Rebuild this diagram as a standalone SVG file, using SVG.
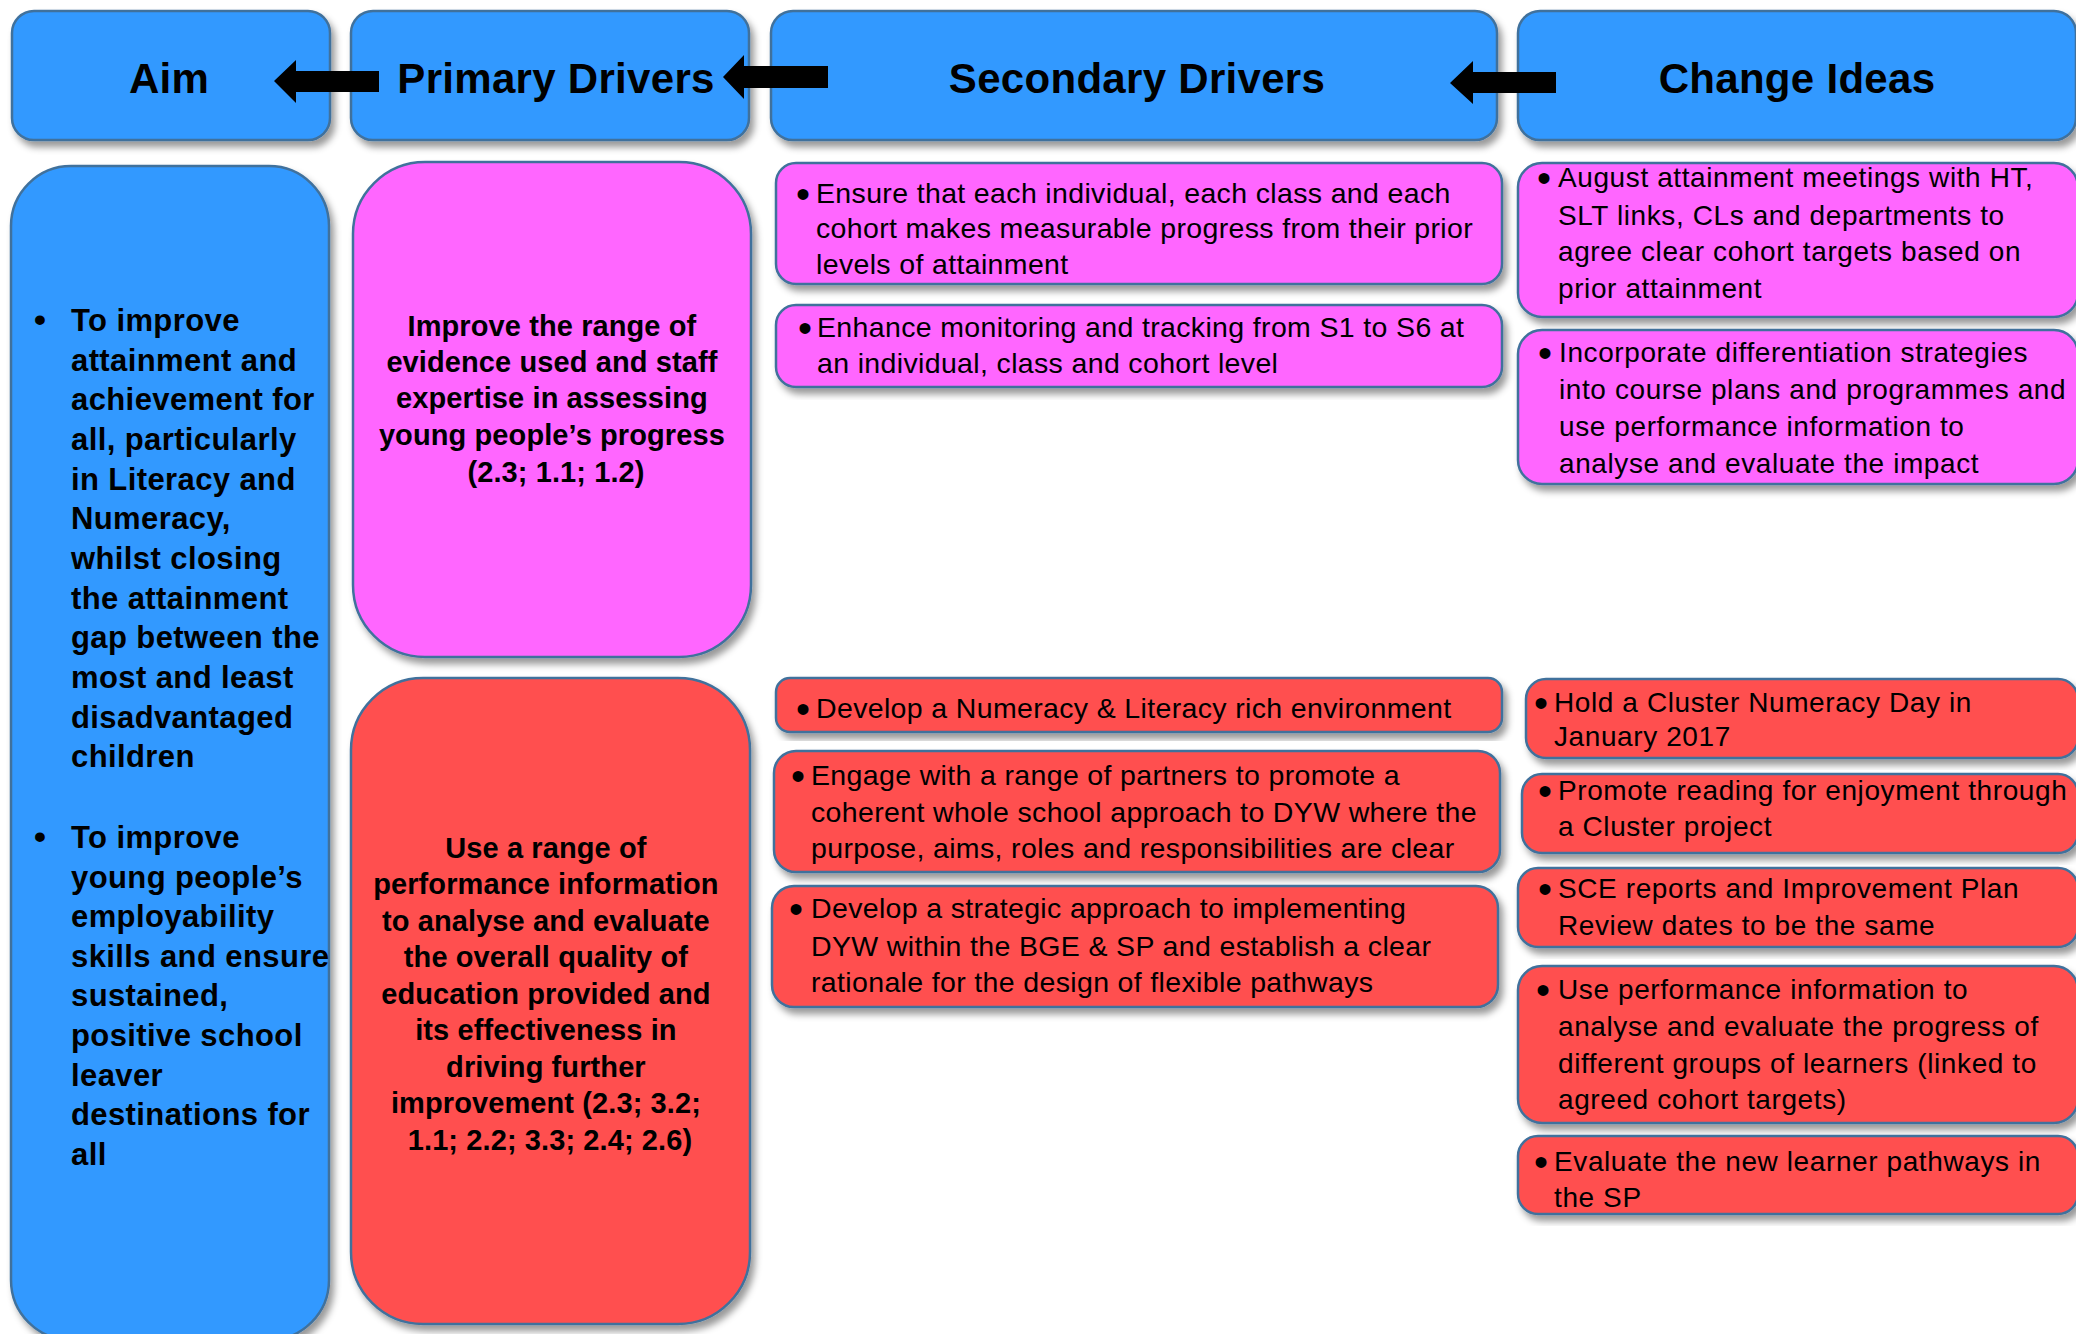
<svg xmlns="http://www.w3.org/2000/svg" width="2076" height="1334" viewBox="0 0 2076 1334">
<defs>
<filter id="sh" x="-5%" y="-5%" width="115%" height="120%">
<feDropShadow dx="4" dy="6" stdDeviation="3.5" flood-color="#000" flood-opacity="0.4"/>
</filter>
</defs>
<style>
.box{stroke:#41719C;stroke-width:2.5;filter:url(#sh)}
.blue{fill:#3399FF}
.mag{fill:#FF66FF}
.red{fill:#FF5050}
.hd{font-family:"Liberation Sans",Arial,sans-serif;font-weight:bold;font-size:42px;fill:#000;text-anchor:middle;letter-spacing:0.3px}
.aim{font-family:"Liberation Sans",Arial,sans-serif;font-weight:bold;font-size:31px;fill:#000;letter-spacing:0.4px}
.pd{font-family:"Liberation Sans",Arial,sans-serif;font-weight:bold;font-size:29px;fill:#000;text-anchor:middle;letter-spacing:0.1px}
.sd{font-family:"Liberation Sans",Arial,sans-serif;font-size:28.5px;fill:#000;letter-spacing:0.35px}
.ci{font-family:"Liberation Sans",Arial,sans-serif;font-size:28px;fill:#000;letter-spacing:0.6px}
.bl{font-family:"Liberation Sans",Arial,sans-serif;font-size:40px;fill:#000;text-anchor:middle}
.ab{font-family:"Liberation Sans",Arial,sans-serif;font-size:34px;font-weight:bold;fill:#000;text-anchor:middle}
</style>
<rect width="2076" height="1334" fill="#fff"/>

<g id="hdr-aim"><rect class="box blue" x="12" y="11" width="318" height="129" rx="22"/><text class="hd" x="169" y="93">Aim</text></g>
<g id="hdr-primary"><rect class="box blue" x="351" y="11" width="398" height="129" rx="22"/><text class="hd" x="556" y="93">Primary Drivers</text></g>
<g id="hdr-secondary"><rect class="box blue" x="771" y="11" width="726" height="129" rx="22"/><text class="hd" x="1137" y="93">Secondary Drivers</text></g>
<g id="hdr-change"><rect class="box blue" x="1518" y="11" width="558" height="129" rx="22"/><text class="hd" x="1797" y="93">Change Ideas</text></g>

<g id="aim">
<rect class="box blue" x="11" y="166" width="318" height="1174" rx="60"/>
<text class="ab" x="40" y="331">•</text>
<text class="aim" x="71">
<tspan x="71" y="331">To improve</tspan>
<tspan x="71" y="371">attainment and</tspan>
<tspan x="71" y="410">achievement for</tspan>
<tspan x="71" y="450">all, particularly</tspan>
<tspan x="71" y="490">in Literacy and</tspan>
<tspan x="71" y="529">Numeracy,</tspan>
<tspan x="71" y="569">whilst closing</tspan>
<tspan x="71" y="609">the attainment</tspan>
<tspan x="71" y="648">gap between the</tspan>
<tspan x="71" y="688">most and least</tspan>
<tspan x="71" y="728">disadvantaged</tspan>
<tspan x="71" y="767">children</tspan>
</text>
<text class="ab" x="40" y="848">•</text>
<text class="aim" x="71">
<tspan x="71" y="848">To improve</tspan>
<tspan x="71" y="888">young people’s</tspan>
<tspan x="71" y="927">employability</tspan>
<tspan x="71" y="967">skills and ensure</tspan>
<tspan x="71" y="1006">sustained,</tspan>
<tspan x="71" y="1046">positive school</tspan>
<tspan x="71" y="1086">leaver</tspan>
<tspan x="71" y="1125">destinations for</tspan>
<tspan x="71" y="1165">all</tspan>
</text>
</g>

<g id="primary-1">
<rect class="box mag" x="353" y="162" width="398" height="495" rx="72"/>
<text class="pd">
<tspan x="556" y="336">Improve the range of</tspan>
<tspan x="556" y="372">evidence used and staff</tspan>
<tspan x="556" y="408">expertise in assessing</tspan>
<tspan x="556" y="445">young people’s progress</tspan>
<tspan x="556" y="482">(2.3; 1.1; 1.2)</tspan>
</text>
</g>

<g id="primary-2">
<rect class="box red" x="351" y="678" width="399" height="646" rx="72"/>
<text class="pd">
<tspan x="550" y="858">Use a range of</tspan>
<tspan x="550" y="894">performance information</tspan>
<tspan x="550" y="931">to analyse and evaluate</tspan>
<tspan x="550" y="967">the overall quality of</tspan>
<tspan x="550" y="1004">education provided and</tspan>
<tspan x="550" y="1040">its effectiveness in</tspan>
<tspan x="550" y="1077">driving further</tspan>
<tspan x="550" y="1113">improvement (2.3; 3.2;</tspan>
<tspan x="550" y="1150">1.1; 2.2; 3.3; 2.4; 2.6)</tspan>
</text>
</g>

<g id="sec-1">
<rect class="box mag" x="776" y="163" width="726" height="121" rx="20"/>
<text class="bl" x="803" y="208">•</text>
<text class="sd">
<tspan x="816" y="203">Ensure that each individual, each class and each</tspan>
<tspan x="816" y="238">cohort makes measurable progress from their prior</tspan>
<tspan x="816" y="274">levels of attainment</tspan>
</text>
</g>
<g id="sec-2">
<rect class="box mag" x="776" y="305" width="726" height="82" rx="20"/>
<text class="bl" x="805" y="342">•</text>
<text class="sd">
<tspan x="817" y="337">Enhance monitoring and tracking from S1 to S6 at</tspan>
<tspan x="817" y="373">an individual, class and cohort level</tspan>
</text>
</g>
<g id="sec-3">
<rect class="box red" x="776" y="678" width="726" height="54" rx="14"/>
<text class="bl" x="803" y="723">•</text>
<text class="sd" x="816" y="718">Develop a Numeracy &amp; Literacy rich environment</text>
</g>
<g id="sec-4">
<rect class="box red" x="774" y="751" width="726" height="121" rx="22"/>
<text class="bl" x="798" y="790">•</text>
<text class="sd">
<tspan x="811" y="785">Engage with a range of partners to promote a</tspan>
<tspan x="811" y="822">coherent whole school approach to DYW where the</tspan>
<tspan x="811" y="858">purpose, aims, roles and responsibilities are clear</tspan>
</text>
</g>
<g id="sec-5">
<rect class="box red" x="772" y="886" width="726" height="121" rx="22"/>
<text class="bl" x="796" y="923">•</text>
<text class="sd">
<tspan x="811" y="918">Develop a strategic approach to implementing</tspan>
<tspan x="811" y="956">DYW within the BGE &amp; SP and establish a clear</tspan>
<tspan x="811" y="992">rationale for the design of flexible pathways</tspan>
</text>
</g>

<g id="chg-1">
<rect class="box mag" x="1518" y="163" width="560" height="154" rx="24"/>
<text class="bl" x="1544" y="192">•</text>
<text class="ci">
<tspan x="1558" y="187">August attainment meetings with HT,</tspan>
<tspan x="1558" y="225">SLT links, CLs and departments to</tspan>
<tspan x="1558" y="261">agree clear cohort targets based on</tspan>
<tspan x="1558" y="298">prior attainment</tspan>
</text>
</g>
<g id="chg-2">
<rect class="box mag" x="1518" y="330" width="560" height="154" rx="24"/>
<text class="bl" x="1545" y="367">•</text>
<text class="ci">
<tspan x="1559" y="362">Incorporate differentiation strategies</tspan>
<tspan x="1559" y="399">into course plans and programmes and</tspan>
<tspan x="1559" y="436">use performance information to</tspan>
<tspan x="1559" y="473">analyse and evaluate the impact</tspan>
</text>
</g>
<g id="chg-3">
<rect class="box red" x="1526" y="679" width="552" height="79" rx="20"/>
<text class="bl" x="1541" y="717">•</text>
<text class="ci">
<tspan x="1554" y="712">Hold a Cluster Numeracy Day in</tspan>
<tspan x="1554" y="746">January 2017</tspan>
</text>
</g>
<g id="chg-4">
<rect class="box red" x="1522" y="774" width="556" height="79" rx="20"/>
<text class="bl" x="1545" y="805">•</text>
<text class="ci">
<tspan x="1558" y="800">Promote reading for enjoyment through</tspan>
<tspan x="1558" y="836">a Cluster project</tspan>
</text>
</g>
<g id="chg-5">
<rect class="box red" x="1518" y="868" width="560" height="79" rx="20"/>
<text class="bl" x="1545" y="903">•</text>
<text class="ci">
<tspan x="1558" y="898">SCE reports and Improvement Plan</tspan>
<tspan x="1558" y="935">Review dates to be the same</tspan>
</text>
</g>
<g id="chg-6">
<rect class="box red" x="1518" y="966" width="560" height="157" rx="24"/>
<text class="bl" x="1543" y="1004">•</text>
<text class="ci">
<tspan x="1558" y="999">Use performance information to</tspan>
<tspan x="1558" y="1036">analyse and evaluate the progress of</tspan>
<tspan x="1558" y="1073">different groups of learners (linked to</tspan>
<tspan x="1558" y="1109">agreed cohort targets)</tspan>
</text>
</g>
<g id="chg-7">
<rect class="box red" x="1518" y="1136" width="560" height="78" rx="20"/>
<text class="bl" x="1541" y="1176">•</text>
<text class="ci">
<tspan x="1554" y="1171">Evaluate the new learner pathways in</tspan>
<tspan x="1554" y="1207">the SP</tspan>
</text>
</g>

<g id="connectors" fill="#000">
<polygon points="274,81 296,60 296,71 379,71 379,92 296,92 296,103"/>
<polygon points="723,77 744,55 744,66 828,66 828,88 744,88 744,99"/>
<polygon points="1450,83 1473,61 1473,72 1556,72 1556,93 1473,93 1473,104"/>
</g>
</svg>
